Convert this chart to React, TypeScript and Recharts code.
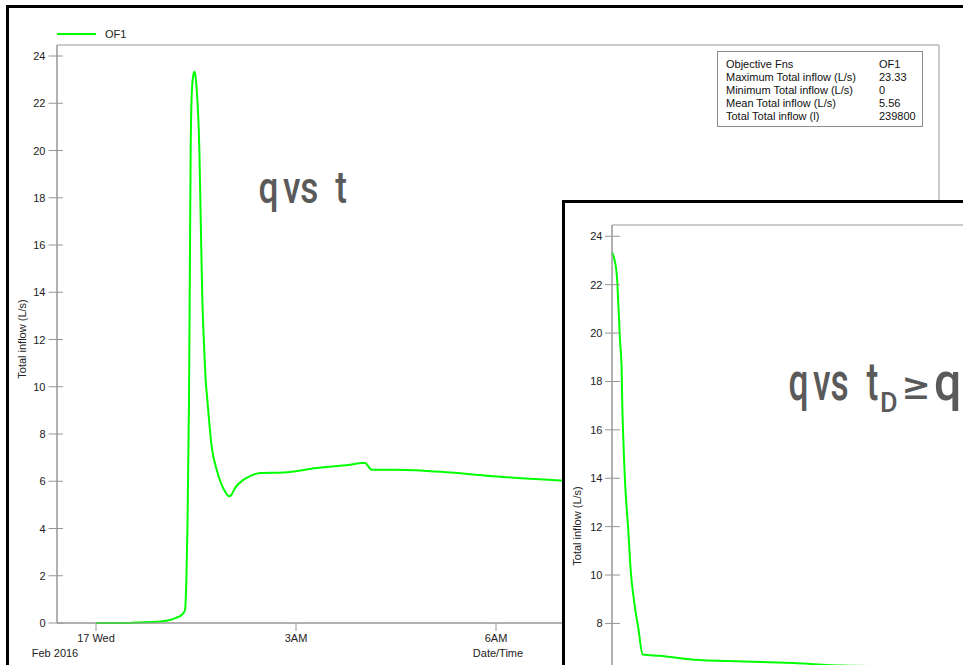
import React from 'react';
import { LineChart, Line, XAxis, YAxis, ReferenceArea, Label } from 'recharts';

// Hydrograph: hours after 00:00 on Wed 17 Feb 2016 vs total inflow (L/s)
const timeHours = [
  0, 0.47, 0.6, 0.885, 1.11, 1.2, 1.285, 1.335, 1.355, 1.37, 1.395, 1.405, 1.41, 1.42,
  1.435, 1.455, 1.475, 1.49, 1.51, 1.55, 1.57, 1.595, 1.62, 1.645, 1.67, 1.735, 1.81,
  1.885, 1.935, 1.995, 2.03, 2.085, 2.21, 2.31, 2.46, 2.81, 3.31, 3.81, 3.99, 4.035,
  4.135, 4.51, 5.31, 6.01, 7.01, 8.0, 9.0, 10.0, 11.0, 12.0,
];
const inflow = [
  0, 0, 0.02, 0.05, 0.13, 0.22, 0.34, 0.55, 1.8, 3.8, 9.4, 13.7, 15.8, 20.0,
  22.3, 23.1, 23.33, 23.2, 22.6, 20.06, 17.2, 13.7, 11.8, 10.3, 9.45, 7.47, 6.49,
  5.85, 5.57, 5.36, 5.42, 5.71, 6.06, 6.22, 6.35, 6.37, 6.56, 6.7, 6.77, 6.77,
  6.49, 6.49, 6.37, 6.2, 6.02, 5.9, 5.75, 5.6, 5.45, 5.3,
];

// Duration curve: hours for which inflow is at or above each level
const durationHours = [
  0, 0.04, 0.075, 0.095, 0.12, 0.145, 0.15, 0.17, 0.195, 0.245, 0.28, 0.33, 0.395,
  0.46, 0.72, 1.22, 1.97, 2.72, 3.47, 5.27, 6.5, 8.0, 9.5, 10.5, 12.0,
];
const sortedInflow = [
  23.33, 23.0, 22.3, 21.2, 19.7, 18.5, 17.6, 15.6, 13.9, 11.8, 10.2, 8.95, 7.8,
  6.72, 6.66, 6.5, 6.43, 6.36, 6.26, 6.2, 6.1, 5.8, 5.4, 0.3, 0,
];

const yTicks = [0, 2, 4, 6, 8, 10, 12, 14, 16, 18, 20, 22, 24];
const durationYTicks = [8, 10, 12, 14, 16, 18, 20, 22, 24];
const xTicks = [0, 3, 6, 9, 12];
const xTickLabels = ['17 Wed', '3AM', '6AM', '9AM', '12PM'];
const dateLabel = 'Feb 2016';
const seriesName = 'OF1';
const statNames = [
  'Objective Fns',
  'Maximum Total inflow (L/s)',
  'Minimum Total inflow (L/s)',
  'Mean Total inflow (L/s)',
  'Total Total inflow (l)',
];
const statValues = [seriesName, '23.33', '0', '5.56', '239800'];

const Y_MAX = 24.466;
const X_DOMAIN: [number, number] = [-0.585, 12.645];
const GREEN = '#00ff00';
const AXIS = '#969696';
const FONT = '"Liberation Sans", Arial, sans-serif';
const TEXT = '#222';
const TITLE = '#5a5a5a';
const TITLE_FONT = 'Roboto, sans-serif';

const mainData = timeHours.map((t, i) => ({ t, q: inflow[i] }));
const durationData = durationHours.map((d, i) => ({ d, q: sortedInflow[i] }));

const makeYTick = (outer: number, inner: number, gap: number) => (p: any) => (
  <g>
    <line x1={p.x - outer} x2={p.x + inner} y1={p.y} y2={p.y} stroke={AXIS} />
    <text x={p.x - gap} y={p.y} textAnchor="end" dominantBaseline="central" fontSize={11} fontFamily={FONT} fill={TEXT}>
      {p.payload.value}
    </text>
  </g>
);

const MainXTick = (p: any) => {
  const i = xTicks.indexOf(p.payload.value);
  return (
    <g>
      <line x1={p.x} x2={p.x} y1={p.y} y2={p.y + 8} stroke={AXIS} />
      <text x={p.x} y={p.y + 19} textAnchor="middle" fontSize={11} fontFamily={FONT} fill={TEXT}>
        {xTickLabels[i]}
      </text>
      {i === 0 && (
        <text x={p.x - 41} y={p.y + 34} textAnchor="middle" fontSize={11} fontFamily={FONT} fill={TEXT}>
          {dateLabel}
        </text>
      )}
    </g>
  );
};

const rotatedLabel = (text: string, x: number, y: number) => () => (
  <text
    x={x}
    y={y}
    transform={`rotate(-90 ${x} ${y})`}
    textAnchor="middle"
    dominantBaseline="central"
    fontSize={11}
    fontFamily={FONT}
    fill={TEXT}
  >
    {text}
  </text>
);

export default function App() {
  return (
    <div style={{ position: 'absolute', left: 0, top: 0, width: 963, height: 665, overflow: 'hidden', background: '#fff' }}>
      {/* outer frame of the hydrograph */}
      <div style={{ position: 'absolute', left: 6, top: 5, width: 1100, height: 800, border: '3px solid #000' }} />

      <div style={{ position: 'absolute', left: 0, top: 0 }}>
        <LineChart width={963} height={665} data={mainData} margin={{ top: 45, right: 24, bottom: 0, left: 0 }}>
          <XAxis
            dataKey="t"
            type="number"
            domain={X_DOMAIN}
            ticks={xTicks}
            interval={0}
            height={42}
            tickSize={0}
            tickMargin={0}
            tickLine={false}
            axisLine={{ stroke: AXIS }}
            tick={MainXTick}
          >
            <Label
              position="insideBottom"
              offset={8}
              content={(lp: any) => {
                const vb = lp.viewBox;
                return (
                  <text x={vb.x + vb.width / 2} y={vb.y + vb.height - 8} textAnchor="middle" fontSize={11} fontFamily={FONT} fill={TEXT}>
                    Date/Time
                  </text>
                );
              }}
            />
          </XAxis>
          <YAxis
            type="number"
            domain={[0, Y_MAX]}
            ticks={yTicks}
            interval={0}
            width={57}
            tickSize={0}
            tickMargin={0}
            tickLine={false}
            axisLine={{ stroke: AXIS }}
            tick={makeYTick(8.5, 6, 11.5)}
          >
            <Label content={rotatedLabel('Total inflow (L/s)', 22, 339)} />
          </YAxis>
          <ReferenceArea x1={X_DOMAIN[0]} x2={X_DOMAIN[1]} y1={0} y2={Y_MAX} fill="none" fillOpacity={0} stroke={AXIS} ifOverflow="visible" />
          <Line
            type="monotone"
            dataKey="q"
            name={seriesName}
            stroke={GREEN}
            strokeWidth={2}
            dot={false}
            isAnimationActive={false}
          />
        </LineChart>
      </div>

      {/* legend */}
      <svg style={{ position: 'absolute', left: 57, top: 32 }} width={40} height={4}>
        <line x1={0} x2={39} y1={2} y2={2} stroke={GREEN} strokeWidth={2} />
      </svg>
      <div style={{ position: 'absolute', left: 105, top: 27, lineHeight: '14px', fontSize: 11, fontFamily: FONT, color: TEXT }}>
        {seriesName}
      </div>

      {/* summary statistics */}
      <div
        style={{
          position: 'absolute',
          left: 717,
          top: 51,
          width: 206,
          height: 76,
          boxSizing: 'border-box',
          border: '1px solid #8c8c8c',
          background: '#fff',
          paddingTop: 5.5,
          paddingLeft: 8,
          fontSize: 11,
          fontFamily: FONT,
          color: '#111',
        }}
      >
        {statNames.map((n, i) => (
          <div key={n} style={{ display: 'flex', height: 13, lineHeight: '13px', whiteSpace: 'nowrap' }}>
            <span style={{ width: 153, display: 'inline-block' }}>{n}</span>
            <span>{statValues[i]}</span>
          </div>
        ))}
      </div>

      {/* duration curve panel */}
      <div style={{ position: 'absolute', left: 562, top: 200, width: 1100, height: 800, border: '3px solid #000', background: '#fff' }}>
        <LineChart width={857} height={654} data={durationData} margin={{ top: 22, right: 10, bottom: 0, left: 0 }}>
          <XAxis
            dataKey="d"
            type="number"
            domain={[0, 12]}
            ticks={[0, 2, 4, 6, 8, 10, 12]}
            height={40}
            tickSize={0}
            tickMargin={0}
            tickLine={false}
            axisLine={{ stroke: AXIS }}
            tick={false}
          />
          <YAxis
            type="number"
            domain={[0, Y_MAX]}
            ticks={durationYTicks}
            interval={0}
            width={47}
            tickSize={0}
            tickMargin={0}
            tickLine={false}
            axisLine={{ stroke: AXIS }}
            tick={makeYTick(7, 8, 9.5)}
          >
            <Label content={rotatedLabel('Total inflow (L/s)', 12, 323)} />
          </YAxis>
          <ReferenceArea x1={0} x2={12} y1={0} y2={Y_MAX} fill="none" fillOpacity={0} stroke={AXIS} ifOverflow="visible" />
          <Line
            type="monotone"
            dataKey="q"
            name={seriesName}
            stroke={GREEN}
            strokeWidth={2}
            dot={false}
            isAnimationActive={false}
          />
        </LineChart>
      </div>

      {/* panel titles */}
      <svg style={{ position: 'absolute', left: 0, top: 0, pointerEvents: 'none' }} width={963} height={665}>
        <g transform="translate(258.5 203.3) scale(0.8 1)" fill={TITLE} fontFamily={TITLE_FONT} fontWeight={500} fontSize={44}>
          <text>
            <tspan x={0}>q</tspan>
            <tspan x={30.5}>vs</tspan>
            <tspan x={96}>t</tspan>
          </text>
        </g>
        <g transform="translate(788.5 400) scale(0.66 1)" fill={TITLE} fontFamily={TITLE_FONT} fontWeight={500} fontSize={53.6}>
          <text>
            <tspan x={0}>q</tspan>
            <tspan x={37}>vs</tspan>
            <tspan x={118}>t</tspan>
          </text>
        </g>
        <text x={880} y={412.3} fill={TITLE} fontFamily={TITLE_FONT} fontWeight={500} fontSize={27}>D</text>
        <g transform="translate(902 399) scale(1.3 1)" fill={TITLE} fontFamily={TITLE_FONT} fontWeight={500} fontSize={40}>
          <text>≥</text>
        </g>
        <g transform="translate(934 400) scale(0.9 1)" fill={TITLE} fontFamily={TITLE_FONT} fontWeight={500} fontSize={53.6}>
          <text>q</text>
        </g>
      </svg>
    </div>
  );
}
